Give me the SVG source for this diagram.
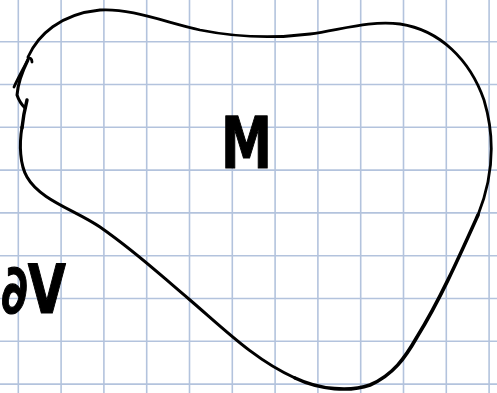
<svg xmlns="http://www.w3.org/2000/svg" width="497" height="393" viewBox="0 0 497 393">
<style>
.grid line{stroke:#b3c3dd;stroke-width:1.6}
.ink{fill:none;stroke:#000;stroke-linecap:round;stroke-linejoin:round}
.hand{font-family:"DejaVu Sans",sans-serif;font-weight:bold;fill:#000;stroke:#000;stroke-width:1.2;stroke-linejoin:round}
</style>
<rect width="497" height="393" fill="#fff"/>
<g class="grid" id="grid">
<line x1="18.3" y1="0" x2="18.3" y2="393"/>
<line x1="61.1" y1="0" x2="61.1" y2="393"/>
<line x1="103.9" y1="0" x2="103.9" y2="393"/>
<line x1="146.7" y1="0" x2="146.7" y2="393"/>
<line x1="189.5" y1="0" x2="189.5" y2="393"/>
<line x1="232.3" y1="0" x2="232.3" y2="393"/>
<line x1="275.1" y1="0" x2="275.1" y2="393"/>
<line x1="317.9" y1="0" x2="317.9" y2="393"/>
<line x1="360.7" y1="0" x2="360.7" y2="393"/>
<line x1="403.5" y1="0" x2="403.5" y2="393"/>
<line x1="446.3" y1="0" x2="446.3" y2="393"/>
<line x1="489.1" y1="0" x2="489.1" y2="393"/>
<line x1="0" y1="41.7" x2="497" y2="41.7"/>
<line x1="0" y1="84.5" x2="497" y2="84.5"/>
<line x1="0" y1="127.3" x2="497" y2="127.3"/>
<line x1="0" y1="170.1" x2="497" y2="170.1"/>
<line x1="0" y1="212.9" x2="497" y2="212.9"/>
<line x1="0" y1="255.7" x2="497" y2="255.7"/>
<line x1="0" y1="298.5" x2="497" y2="298.5"/>
<line x1="0" y1="341.3" x2="497" y2="341.3"/>
<line x1="0" y1="384.1" x2="497" y2="384.1"/>
</g>
<g id="region">
<path class="ink" stroke-width="2.8" d="M28,57 C38,35 60,14 100,10 C130,8 165,22 200,30 C230,36 270,39 310,34 C340,30 370,20 400,24 C440,30 470,60 484,100 C496,140 492,180 478,215"/>
<path class="ink" stroke-width="3.6" d="M478,215 C460,255 440,300 417,337 C405,358 393,375 370,385 C350,392 320,390 295,378"/>
<path class="ink" stroke-width="3" d="M295,378 C255,360 225,330 190,300 C160,275 140,255 100,227 C75,210 40,200 27,177 C20,165 19,145 22,127"/>
<path class="ink" stroke-width="3.4" d="M22,128 C23,118 25,108 27,100"/>
<path class="ink" stroke-width="3" d="M28,60 C23,70 18,82 17,95 C19,101 22,105 25,108"/>
<path class="ink" stroke-width="2.8" d="M32,62 C32,59 30,57 28,59 C25,66 19,76 14,87"/>
</g>
<g id="label-M">
<text class="hand" x="221" y="168" font-size="72" textLength="51" lengthAdjust="spacingAndGlyphs">M</text>
</g>
<g id="label-left">
<text class="hand" x="1" y="313" font-size="68" textLength="65" lengthAdjust="spacingAndGlyphs">∂V</text>
</g>
</svg>
